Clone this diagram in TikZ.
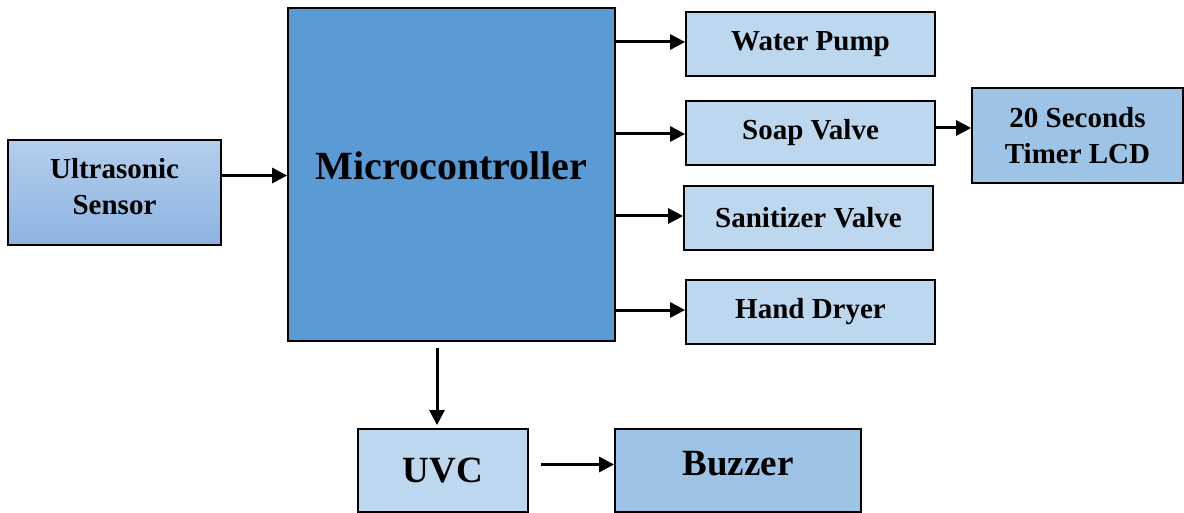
\documentclass[tikz,border=0pt]{standalone}
\usepackage{fontspec}
\setmainfont{Liberation Serif}
\usetikzlibrary{arrows.meta,calc}
\definecolor{mcblue}{HTML}{5B9BD5}
\definecolor{lightblue}{HTML}{BDD7EE}
\definecolor{midblue}{HTML}{9DC3E6}
\definecolor{gtop}{HTML}{B4CEEC}
\definecolor{gbot}{HTML}{8DB3E2}
\tikzset{
  blk/.style={draw=black, line width=1.8pt, inner sep=0pt, align=center,
    font=\bfseries\fontsize{29}{36}\selectfont},
  arr/.style={draw=black, line width=3pt, -{Triangle[length=15pt,width=15pt]}},
}
\begin{document}
\begin{tikzpicture}[x=1pt,y=-1pt]
\useasboundingbox (0,0) rectangle (1184,513);
\node[blk, top color=gtop, bottom color=gbot, minimum width=213pt, minimum height=105pt] (us) at (114.5,192.5) {Ultrasonic\\Sensor\rule[-12pt]{0pt}{0pt}};
\node[blk, fill=mcblue, minimum width=327pt, minimum height=333pt, font=\bfseries\fontsize{40}{44}\selectfont, text depth=18pt] (mc) at (451.5,174.5) {Microcontroller};
\node[blk, fill=lightblue, minimum width=249pt, minimum height=64pt] (wp) at (810.5,44) {Water Pump};
\node[blk, fill=lightblue, minimum width=249pt, minimum height=64pt] (sv) at (810.5,133) {Soap Valve};
\node[blk, fill=lightblue, minimum width=249pt, minimum height=64pt] (sz) at (808.5,218) {Sanitizer Valve};
\node[blk, fill=lightblue, minimum width=249pt, minimum height=64pt] (hd) at (810.5,312) {Hand Dryer};
\node[blk, fill=midblue, minimum width=211pt, minimum height=95pt] (lcd) at (1077.5,135.5) {20 Seconds\\Timer LCD};
\node[blk, fill=lightblue, minimum width=170pt, minimum height=83pt, font=\bfseries\fontsize{37}{40}\selectfont] (uvc) at (443,470.5) {UVC};
\node[blk, fill=midblue, minimum width=246pt, minimum height=83pt, font=\bfseries\fontsize{37}{40}\selectfont, text depth=14pt] (bz) at (738,470.5) {Buzzer};
% connectors
\coordinate (usout) at ([yshift=17pt]us.east);
\draw[arr] (usout) -- (mc.west |- usout);
\coordinate (wpin) at ([yshift=2pt]wp.west);
\draw[arr] (mc.east |- wpin) -- (wpin);
\coordinate (svin) at ([yshift=-1pt]sv.west);
\draw[arr] (mc.east |- svin) -- (svin);
\coordinate (szin) at ([yshift=2pt]sz.west);
\draw[arr] (mc.east |- szin) -- (szin);
\coordinate (hdin) at ([yshift=2pt]hd.west);
\draw[arr] (mc.east |- hdin) -- (hdin);
\coordinate (svout) at ([yshift=5pt]sv.east);
\draw[arr] (svout) -- (lcd.west |- svout);
\coordinate (dtop) at ([xshift=-6pt]uvc.north |- mc.south);
\coordinate (dbot) at ([xshift=-6pt,yshift=3pt]uvc.north);
\draw[arr] ([yshift=-6pt]dtop) -- (dbot);
\coordinate (ustart) at ([xshift=12pt,yshift=6pt]uvc.east);
\draw[arr] (ustart) -- (bz.west |- ustart);
\end{tikzpicture}
\end{document}
